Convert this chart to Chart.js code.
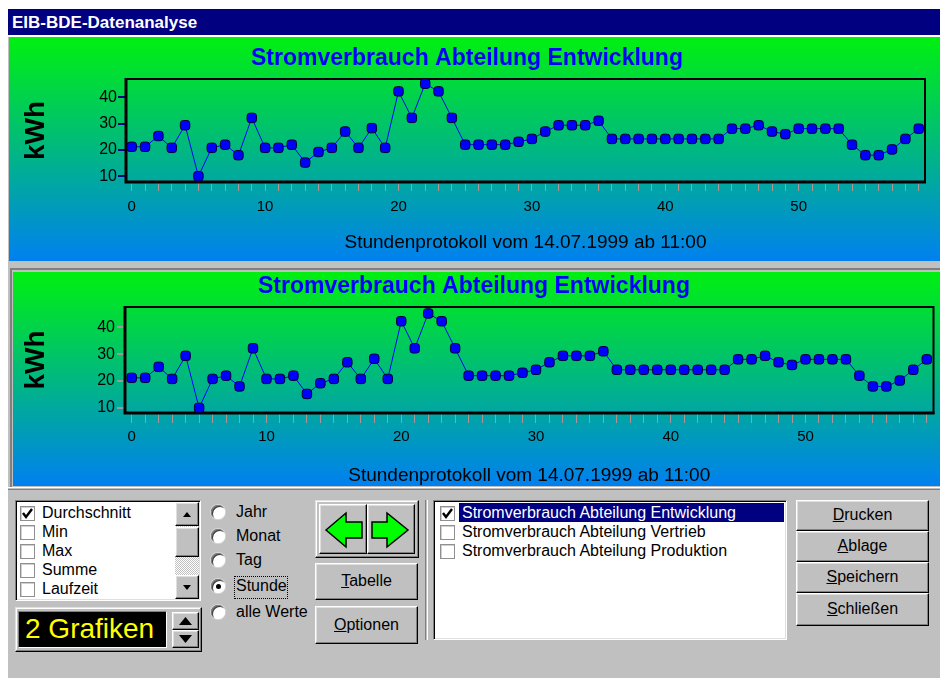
<!DOCTYPE html>
<html><head><meta charset="utf-8">
<script src="https://cdn.jsdelivr.net/npm/chart.js@4/dist/chart.umd.min.js"></script>
<style>
html,body{margin:0;padding:0;background:#fff;}
body{width:940px;height:678px;position:relative;overflow:hidden;font-family:"Liberation Sans",Arial,sans-serif;font-size:16px;color:#000;}
.a{position:absolute;box-sizing:border-box;}
#titlebar{left:8px;top:9px;width:932px;height:26px;background:#000080;color:#fff;font-weight:bold;font-size:17px;line-height:27px;padding-left:4px;}
#win{left:8px;top:35px;width:932px;height:643px;background:#c0c0c0;border-top:2px solid #fff;}
.panel{background:linear-gradient(#00f010,#0080f0);}
#p1{left:9px;top:37px;width:931px;height:224px;}
#p2frame{left:10px;top:268px;width:930px;height:220px;border-top:2px solid #808080;border-left:2px solid #808080;border-bottom:1px solid #fff;}
#p2{left:13px;top:272px;width:927px;height:214px;}
#lower{left:8px;top:487px;width:932px;height:3px;border-top:1px solid #fff;border-bottom:1px solid #808080;}
canvas{display:block;position:absolute;}
.btn{background:#c0c0c0;border:1px solid;border-color:#fff #000 #000 #fff;box-shadow:inset -1px -1px #808080, inset 1px 1px #dfdfdf;text-align:center;font-size:16px;}
.raised{background:#c0c0c0;border:1px solid;border-color:#dfdfdf #000 #000 #dfdfdf;box-shadow:inset -1px -1px #808080, inset 1px 1px #fff;}
.sunken{background:#fff;border:1px solid;border-color:#808080 #fff #fff #808080;box-shadow:inset 1px 1px #000, inset -1px -1px #dfdfdf;}
.chk{width:15px;height:15px;background:#fff;border:1px solid #909090;box-shadow:inset 1px 1px #d0d0d0;}
.row{font-size:16px;line-height:19px;height:19px;white-space:nowrap;}
.radio{width:14px;height:14px;border-radius:50%;background:#fff;box-shadow:inset 1px 1px #808080, inset 2px 2px #404040, inset -1px -1px #fff, 0 0 0 1px #d8d8d8;}
.dot{width:5px;height:5px;border-radius:50%;background:#000;}
.lbl{font-size:16px;line-height:20px;white-space:nowrap;}
</style>
</head>
<body>
<div id="titlebar" class="a">EIB-BDE-Datenanalyse</div>
<div id="win" class="a"></div>
<div id="p1" class="a panel"></div>
<canvas id="c1" width="931" height="224" style="left:9px;top:37px;"></canvas>
<div id="p2frame" class="a"></div>
<div id="p2" class="a panel"></div>
<canvas id="c2" width="927" height="214" style="left:13px;top:272px;"></canvas>
<div id="lower" class="a"></div>

<!-- Listbox 1 -->
<div class="a sunken" style="left:15px;top:500px;width:186px;height:101px;"></div>
<div class="a chk" style="left:20px;top:506px;"></div>
<svg class="a" style="left:20px;top:506px;" width="15" height="15"><polyline points="3,7 6,11 12,3" fill="none" stroke="#000" stroke-width="2.4"/></svg>
<div class="a row" style="left:42px;top:503px;">Durchschnitt</div>
<div class="a chk" style="left:20px;top:525px;"></div>
<div class="a row" style="left:42px;top:522px;">Min</div>
<div class="a chk" style="left:20px;top:544px;"></div>
<div class="a row" style="left:42px;top:541px;">Max</div>
<div class="a chk" style="left:20px;top:563px;"></div>
<div class="a row" style="left:42px;top:560px;">Summe</div>
<div class="a chk" style="left:20px;top:582px;"></div>
<div class="a row" style="left:42px;top:579px;">Laufzeit</div>
<div class="a" style="left:175px;top:502px;width:24px;height:97px;background:repeating-conic-gradient(#c0c0c0 0 25%, #fff 0 50%) 0 0/2px 2px;"></div>
<div class="a btn" style="left:175px;top:502px;width:24px;height:24px;"></div>
<svg class="a" style="left:175px;top:502px;" width="24" height="24"><polygon points="8,15 16,15 12,10" fill="#000"/></svg>
<div class="a btn" style="left:175px;top:527px;width:24px;height:30px;"></div>
<div class="a btn" style="left:175px;top:575px;width:24px;height:24px;"></div>
<svg class="a" style="left:175px;top:575px;" width="24" height="24"><polygon points="8,10 16,10 12,15" fill="#000"/></svg>

<!-- 2 Grafiken -->
<div class="a raised" style="left:15px;top:607px;width:187px;height:45px;"></div>
<div class="a" style="left:18px;top:611px;width:149px;height:37px;background:#000;border:1px solid;border-color:#808080 #fff #fff #808080;"></div>
<div class="a" style="left:25px;top:612px;color:#ffff00;font-size:28px;line-height:34px;white-space:nowrap;">2 Grafiken</div>
<div class="a btn" style="left:172px;top:612px;width:27px;height:18px;"></div>
<svg class="a" style="left:172px;top:612px;" width="27" height="18"><polygon points="7,13 20,13 13.5,5" fill="#000"/></svg>
<div class="a btn" style="left:172px;top:630px;width:27px;height:18px;"></div>
<svg class="a" style="left:172px;top:630px;" width="27" height="18"><polygon points="7,5 20,5 13.5,13" fill="#000"/></svg>

<!-- Radios -->
<div class="a radio" style="left:211px;top:505px;"></div>
<div class="a lbl" style="left:236px;top:502px;">Jahr</div>
<div class="a radio" style="left:211px;top:529px;"></div>
<div class="a lbl" style="left:236px;top:526px;">Monat</div>
<div class="a radio" style="left:211px;top:553px;"></div>
<div class="a lbl" style="left:236px;top:550px;">Tag</div>
<div class="a radio" style="left:211px;top:579px;"></div>
<div class="a dot" style="left:216px;top:584px;"></div>
<div class="a lbl" style="left:236px;top:576px;">Stunde</div>
<div class="a" style="left:234px;top:576px;width:54px;height:23px;border:1px dotted #000;"></div>
<div class="a radio" style="left:211px;top:605px;"></div>
<div class="a lbl" style="left:236px;top:602px;">alle Werte</div>

<!-- Arrow buttons -->
<div class="a raised" style="left:315px;top:500px;width:104px;height:58px;"></div>
<div class="a btn" style="left:319px;top:504px;width:48px;height:50px;"></div>
<div class="a btn" style="left:367px;top:504px;width:48px;height:50px;"></div>
<svg class="a" style="left:0;top:0;" width="940" height="678">
<polygon points="326,530 346,513 346,522 362,522 362,538 346,538 346,547" fill="#00ff00" stroke="#000" stroke-width="1.5"/>
<polygon points="408,530 387,513 387,522 372,522 372,538 387,538 387,547" fill="#00ff00" stroke="#000" stroke-width="1.5"/>
</svg>
<div class="a btn" style="left:315px;top:563px;width:103px;height:37px;line-height:34px;"><u>T</u>abelle</div>
<div class="a btn" style="left:315px;top:606px;width:103px;height:38px;line-height:35px;"><u>O</u>ptionen</div>

<!-- separator -->
<div class="a" style="left:425px;top:500px;width:3px;height:140px;border-left:1px solid #808080;border-right:1px solid #fff;"></div>

<!-- Listbox 2 -->
<div class="a sunken" style="left:433px;top:500px;width:354px;height:140px;"></div>
<div class="a" style="left:459px;top:503px;width:325px;height:19px;background:#000080;"></div>
<div class="a chk" style="left:440px;top:506px;"></div>
<svg class="a" style="left:440px;top:506px;" width="15" height="15"><polyline points="3,7 6,11 12,3" fill="none" stroke="#000" stroke-width="2.4"/></svg>
<div class="a row" style="left:462px;top:503px;color:#fff;">Stromverbrauch Abteilung Entwicklung</div>
<div class="a chk" style="left:440px;top:525px;"></div>
<div class="a row" style="left:462px;top:522px;">Stromverbrauch Abteilung Vertrieb</div>
<div class="a chk" style="left:440px;top:544px;"></div>
<div class="a row" style="left:462px;top:541px;">Stromverbrauch Abteilung Produktion</div>

<!-- right buttons -->
<div class="a btn" style="left:796px;top:500px;width:133px;height:31px;line-height:28px;"><u>D</u>rucken</div>
<div class="a btn" style="left:796px;top:531px;width:133px;height:31px;line-height:28px;"><u>A</u>blage</div>
<div class="a btn" style="left:796px;top:562px;width:133px;height:31px;line-height:28px;"><u>S</u>peichern</div>
<div class="a btn" style="left:796px;top:593px;width:133px;height:33px;line-height:30px;"><u>S</u>chließen</div>

<script>
// ---- data ----
const hours = [0,1,2,3,4,5,6,7,8,9,10,11,12,13,14,15,16,17,18,19,20,21,22,23,24,25,26,27,28,29,
               30,31,32,33,34,35,36,37,38,39,40,41,42,43,44,45,46,47,48,49,50,51,52,53,54,55,56,57,58,59];
const kwh = [21.2,21.2,25.3,20.8,29.4,10,20.8,22,18,32.2,
             20.8,20.8,22,15.2,19.2,20.8,27,20.8,28.3,20.8,
             42.3,32.2,45.2,42.3,32.2,22,22,22,22,23.1,
             24.2,27,29.4,29.4,29.4,31.1,24.2,24.2,24.2,24.2,
             24.2,24.2,24.2,24.2,24.2,28.1,28.1,29.4,27,26,
             28.1,28.1,28.1,28.1,22,18,18,20.2,24.2,28.1];
const yTickValues = [10,20,30,40];
const xLabelValues = [0,10,20,30,40,50];
const chartTitle = 'Stromverbrauch Abteilung Entwicklung';
const yTitle = 'kWh';
const xTitle = 'Stundenprotokoll vom 14.07.1999 ab 11:00';

Chart.defaults.font.family = '"Liberation Sans", Arial, sans-serif';

const framePlugin = {
  id: 'frame',
  beforeDatasetsDraw(chart) {
    const {ctx, chartArea: a} = chart;
    ctx.save();
    ctx.strokeStyle = '#000';
    ctx.lineWidth = 2;
    ctx.strokeRect(a.left, a.top, a.right - a.left, a.bottom - a.top);
    ctx.lineWidth = 3;
    ctx.beginPath();
    ctx.moveTo(a.left, a.top - 1);
    ctx.lineTo(a.left, a.bottom);
    ctx.lineTo(a.right + 1, a.bottom);
    ctx.stroke();
    ctx.restore();
  }
};

function makeChart(id, c) {
  const points = hours.map((h, i) => ({x: h, y: kwh[i]}));
  return new Chart(document.getElementById(id), {
    type: 'line',
    data: {datasets: [{
      data: points, borderColor: '#0000ff', borderWidth: 1, tension: 0,
      pointStyle: 'rectRounded', pointRadius: 5.5, pointBorderColor: '#000030',
      pointBorderWidth: 1, pointBackgroundColor: '#0000ff'
    }]},
    options: {
      responsive: false, animation: false, events: [],
      layout: {padding: {left: 0, top: 0, bottom: 0, right: c.padRight}},
      plugins: {
        legend: {display: false}, tooltip: {enabled: false},
        title: {display: true, text: chartTitle, color: '#0000ff',
          font: {size: 23, weight: 'bold'}, padding: {top: c.titleTop, bottom: c.titleBottom}}
      },
      scales: {
        x: {
          type: 'linear', min: c.xMin, max: c.xMax,
          afterBuildTicks: s => { s.ticks = hours.map(v => ({value: v})); },
          afterFit: s => { s.height = c.xH; },
          grid: {drawOnChartArea: false, drawTicks: true, tickLength: c.xTickLen, color: '#a89898', lineWidth: 1},
          border: {display: false},
          ticks: {autoSkip: false, maxRotation: 0, padding: c.xTickPad, color: '#000', font: {size: 15},
            callback: v => xLabelValues.includes(v) ? String(v) : ''},
          title: {display: true, text: xTitle, color: '#000', font: {size: 19, lineHeight: c.xTitleLH},
            padding: {top: 0, bottom: c.xTitleBottom}}
        },
        y: {
          min: c.yMin, max: c.yMax,
          afterBuildTicks: s => { s.ticks = yTickValues.map(v => ({value: v})); },
          afterFit: s => { s.width = c.yW; },
          grid: {drawOnChartArea: false, tickLength: 8, color: c.yTickColor, lineWidth: 2},
          border: {display: false},
          ticks: {padding: c.yTickPad, color: '#000', font: {size: 16}},
          title: {display: true, text: yTitle, color: '#000', font: {size: 28, weight: 'bold'},
            padding: {top: c.yTitleTop, bottom: 0}}
        }
      }
    },
    plugins: [framePlugin]
  });
}

makeChart('c1', {padRight: 15, titleTop: 7.7, titleBottom: 6.7, xMin: -0.43, xMax: 59.47, xH: 79,
  xTickLen: 9, xTickPad: 6.5, xTitleLH: 1.2, xTitleBottom: 6.6, yMin: 7.8, yMax: 47, yW: 117,
  yTickColor: '#000080', yTickPad: 1, yTitleTop: 10.5});
makeChart('c2', {padRight: 5, titleTop: 1.2, titleBottom: 6.2, xMin: -0.5, xMax: 59.5, xH: 73,
  xTickLen: 10, xTickPad: 5, xTitleLH: 1, xTitleBottom: 1, yMin: 8.1, yMax: 47.6, yW: 112,
  yTickColor: '#9a9a9a', yTickPad: 2, yTitleTop: 6.5});
</script>
</body></html>
